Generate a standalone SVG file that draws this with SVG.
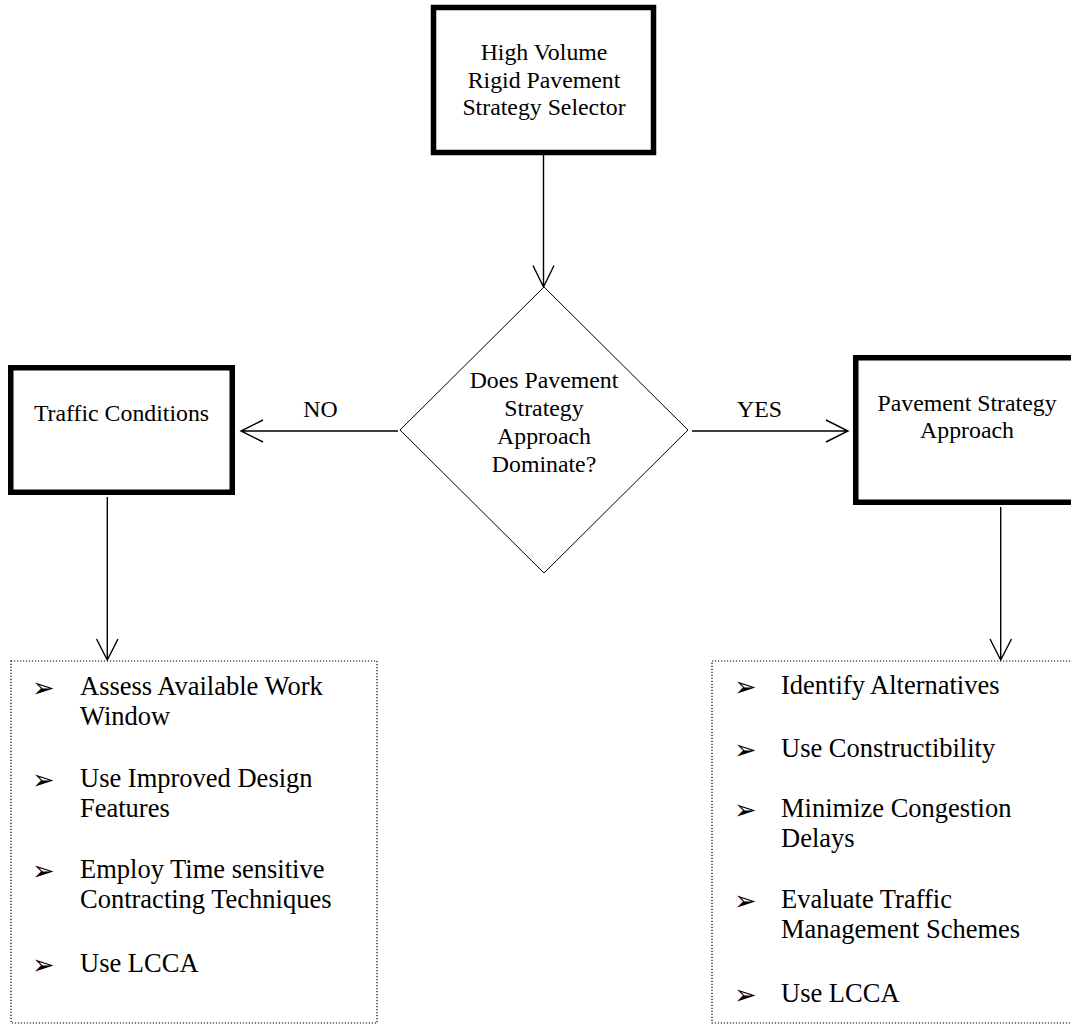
<svg xmlns="http://www.w3.org/2000/svg" width="1071" height="1025" viewBox="0 0 1071 1025">
<style>
text{font-family:"Liberation Serif","Times New Roman",serif;fill:#000}
.t{font-size:23.8px;text-anchor:middle}
.b{font-size:26.5px}
.bul{font-family:"DejaVu Sans",sans-serif;font-size:27px}
.box{fill:#fff;stroke:#000;stroke-width:5.5}
.dot{fill:none;stroke:#000;stroke-width:1.2;stroke-dasharray:1.2,1.8}
.con{fill:none;stroke:#000;stroke-width:1.4}
.dia{fill:#fff;stroke:#000;stroke-width:1}
</style>
<rect width="1071" height="1025" fill="#fff"/>
<g id="connectors">
<path class="con" d="M543.5,155 V287 M533,265.5 L543.5,287 L554,265.5"/>
<path class="con" d="M398,431 H241 M263,420 L241,431 L263,442"/>
<path class="con" d="M692,431 H848 M826,420 L848,431 L826,442"/>
<path class="con" d="M107.3,497 V660 M96.5,639 L107.3,660 L118,639"/>
<path class="con" d="M1000.7,507 V660 M990,639 L1000.7,660 L1011.5,639"/>
<text x="320.5" y="417" class="t">NO</text>
<text x="759.5" y="417" class="t">YES</text>
</g>
<g id="start">
<rect class="box" x="433.5" y="7.5" width="220" height="145"/>
<text x="544" y="60" class="t">High Volume</text>
<text x="544" y="87.5" class="t">Rigid Pavement</text>
<text x="544" y="115" class="t">Strategy Selector</text>
</g>
<g id="decision">
<polygon class="dia" points="544,287 688,430 544,573 400,430"/>
<text x="544" y="388" class="t">Does Pavement</text>
<text x="544" y="416" class="t">Strategy</text>
<text x="544" y="444" class="t">Approach</text>
<text x="544" y="472" class="t">Dominate?</text>
</g>
<g id="traffic">
<rect class="box" x="10.75" y="367.75" width="221.5" height="124.5"/>
<text x="121.5" y="421" class="t">Traffic Conditions</text>
</g>
<g id="pavement">
<rect class="box" x="855.75" y="357.75" width="225" height="144.5"/>
<text x="967" y="411" class="t">Pavement Strategy</text>
<text x="967" y="438" class="t">Approach</text>
</g>
<g id="traffic-actions">
<rect class="dot" x="11" y="661" width="366" height="362"/>
<text x="32" y="697" class="bul">➢</text><text x="80" y="695" class="b">Assess Available Work</text>
<text x="80" y="725" class="b">Window</text>
<text x="32" y="789" class="bul">➢</text><text x="80" y="787" class="b">Use Improved Design</text>
<text x="80" y="817" class="b">Features</text>
<text x="32" y="880" class="bul">➢</text><text x="80" y="878" class="b">Employ Time sensitive</text>
<text x="80" y="908" class="b">Contracting Techniques</text>
<text x="32" y="974" class="bul">➢</text><text x="80" y="972" class="b">Use LCCA</text>
</g>
<g id="pavement-actions">
<rect class="dot" x="712" y="661" width="370" height="362"/>
<text x="734" y="696" class="bul">➢</text><text x="781" y="694" class="b">Identify Alternatives</text>
<text x="734" y="759" class="bul">➢</text><text x="781" y="757" class="b">Use Constructibility</text>
<text x="734" y="819" class="bul">➢</text><text x="781" y="817" class="b">Minimize Congestion</text>
<text x="781" y="847" class="b">Delays</text>
<text x="734" y="910" class="bul">➢</text><text x="781" y="908" class="b">Evaluate Traffic</text>
<text x="781" y="938" class="b">Management Schemes</text>
<text x="734" y="1004" class="bul">➢</text><text x="781" y="1002" class="b">Use LCCA</text>
</g>
</svg>
